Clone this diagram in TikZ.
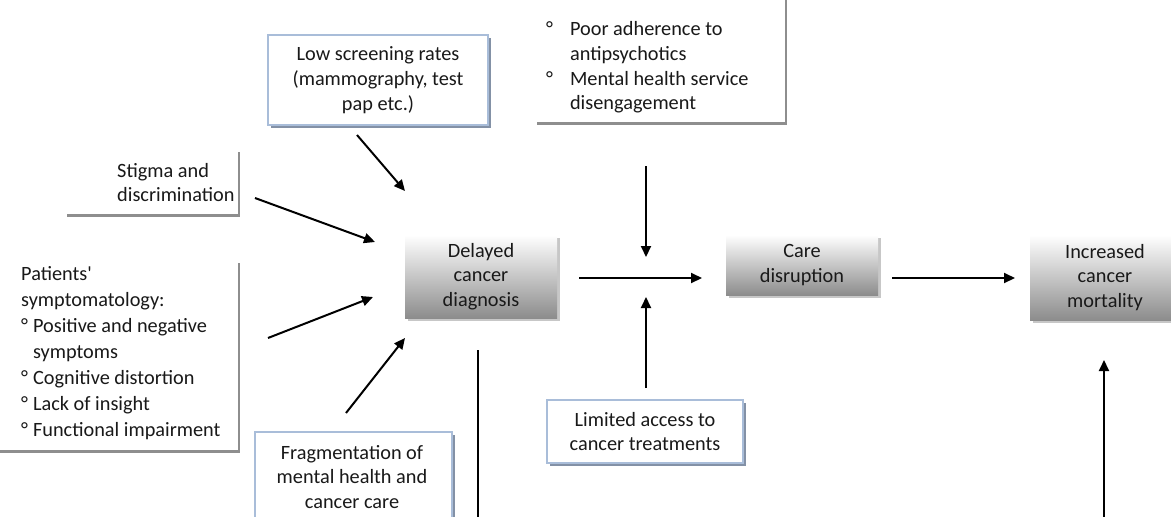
\documentclass[tikz,border=0pt]{standalone}
\usepackage{fontspec}
\setmainfont{Carlito}[Ligatures=TeXOff]
\usetikzlibrary{shadows,arrows.meta}
\definecolor{bordblue}{HTML}{A9BDD9}
\definecolor{shadblue}{HTML}{8391A6}
\definecolor{shadgray}{HTML}{8E8E8E}
\tikzset{
  txt/.style={font=\fontsize{20.3}{24.8}\selectfont, text=black!90, inner sep=0pt},
  wbox/.style={draw=bordblue, line width=1.5pt, fill=white, inner sep=0pt,
    drop shadow={shadow xshift=3pt, shadow yshift=-3pt, fill=shadblue, opacity=1}},
  lbox/.style={fill=white, inner sep=0pt,
    drop shadow={shadow xshift=2pt, shadow yshift=-3pt, fill=shadgray, opacity=1}},
  gbox/.style={top color=white, bottom color=black!45, inner sep=0pt,
    drop shadow={shadow xshift=3pt, shadow yshift=-3pt, fill=black!22, opacity=1}},
  arr/.style={line width=2pt, -{Triangle[length=11pt,width=10pt]}},
}
\begin{document}
\begin{tikzpicture}[x=1pt,y=-1pt]
\useasboundingbox (0,0) rectangle (1171,517);
% boxes
\node[wbox, minimum width=220, minimum height=90, txt, align=center] (low) at (378,80)
  {Low screening rates\\(mammography, test\\pap etc.)};
\node[lbox, minimum width=250, minimum height=140] (poorbox) at (660,52) {};
\node[txt, align=left, anchor=north west] (poor) at (546,18)
  {\begin{tabular}{@{}l@{\hspace{17pt}}l@{}}\textdegree & Poor adherence to\\ & antipsychotics\\ \textdegree & Mental health service\\ & disengagement\end{tabular}};
\node[lbox, minimum width=173, minimum height=65] (stigbox) at (151.5,181) {};
\node[txt, align=left, anchor=west] (stig) at (117,182.5) {Stigma and\\discrimination};
\node[lbox, minimum width=250, minimum height=190] (patbox) at (113,355) {};
\node[txt, align=left, anchor=west, font=\fontsize{20.3}{26}\selectfont] (pat) at (21,353)
  {\begin{tabular}{@{}l@{\hspace{5pt}}l@{}}\multicolumn{2}{@{}l}{Patients'}\\ \multicolumn{2}{@{}l}{symptomatology:}\\
  \textdegree & Positive and negative\\ & symptoms\\ \textdegree & Cognitive distortion\\ \textdegree & Lack of insight\\ \textdegree & Functional impairment\end{tabular}};
\node[gbox, minimum width=152, minimum height=83, txt, align=center] (delay) at (481,276.5)
  {Delayed\\cancer\\diagnosis};
\node[gbox, minimum width=152, minimum height=60, txt, align=center] (care) at (802,265)
  {Care\\disruption};
\node[gbox, minimum width=150, minimum height=85, txt, align=center] (mort) at (1105,277.5)
  {Increased\\cancer\\mortality};
\node[wbox, minimum width=197, minimum height=110] (frag) at (353.5,487) {};
\node[txt, align=center] (fragt) at (352,477) {Fragmentation of\\mental health and\\cancer care};
\node[wbox, minimum width=196, minimum height=63, txt, align=center] (lim) at (645,431.5)
  {Limited access to\\cancer treatments};
% coordinates for arrows
\coordinate (a1s) at (357,135); \coordinate (a1e) at (405,191);
\coordinate (a2s) at (255,198); \coordinate (a2e) at (375,242);
\coordinate (a3s) at (268,338); \coordinate (a3e) at (373,297);
\coordinate (a4s) at (346,413); \coordinate (a4e) at (405,338);
\coordinate (hs) at (579,278); \coordinate (he) at (702,278);
\coordinate (ds) at (646,166); \coordinate (de) at (646,257);
\coordinate (us) at (646,388); \coordinate (ue) at (646,297);
\coordinate (h2s) at (892,278); \coordinate (h2e) at (1015,278);
\coordinate (vls) at (478,350); \coordinate (vle) at (478,530);
\coordinate (vas) at (1104,530); \coordinate (vae) at (1104,360);
\draw[arr] (a1s) -- (a1e);
\draw[arr] (a2s) -- (a2e);
\draw[arr] (a3s) -- (a3e);
\draw[arr] (a4s) -- (a4e);
\draw[arr] (hs) -- (he);
\draw[arr] (ds) -- (de);
\draw[arr] (us) -- (ue);
\draw[arr] (h2s) -- (h2e);
\draw[line width=1.5pt] (vls) -- (vle);
\draw[arr] (vas) -- (vae);
\end{tikzpicture}
\end{document}
